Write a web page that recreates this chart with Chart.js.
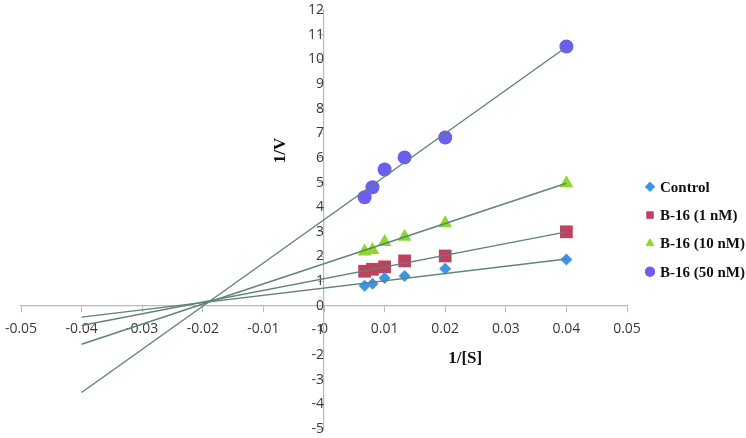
<!DOCTYPE html>
<html>
<head>
<meta charset="utf-8">
<script src="https://cdn.jsdelivr.net/npm/chart.js@4/dist/chart.umd.min.js"></script>
<style>
  html, body { margin: 0; padding: 0; background: #fff; }
  #wrap { width: 746px; height: 438px; }
</style>
</head>
<body>
<div id="wrap"><canvas id="lbPlot"></canvas></div>
<script>
// -------------------- DATA --------------------
const invS = [0.0067, 0.008, 0.01, 0.0133, 0.02, 0.04];
const control = [0.81, 0.89, 1.13, 1.21, 1.50, 1.88];
const b16_1nM = [1.40, 1.48, 1.58, 1.82, 2.02, 3.00];
const b16_10nM = [2.20, 2.26, 2.59, 2.80, 3.35, 4.97];
const b16_50nM = [4.40, 4.81, 5.53, 6.02, 6.83, 10.52];

// fitted lines, read at both ends
const fitX = [-0.04, 0.04];
const fitControl = [-0.46, 1.90];
const fit1nM = [-0.80, 3.00];
const fit10nM = [-1.56, 4.97];
const fit50nM = [-3.52, 10.50];

const seriesNames = ["Control", "B-16 (1 nM)", "B-16 (10 nM)", "B-16 (50 nM)"];
const xTicks = [-0.05, -0.04, -0.03, -0.02, -0.01, 0, 0.01, 0.02, 0.03, 0.04, 0.05];
const yTicks = [-5, -4, -3, -2, -1, 0, 1, 2, 3, 4, 5, 6, 7, 8, 9, 10, 11, 12];

// -------------------- STYLE --------------------
const COLORS = ["#4193e6", "#c0405e", "#8ed82a", "#6b5ef0"];
const SHAPES = ["rectRot", "rect", "triangle", "circle"];
const RADII = [6, 9, 8, 7];
const LINE_COLOR = "#5f8279";
const AXIS_COLOR = "#b4bcbc";

const pts = (xs, ys) => xs.map((x, i) => ({ x: x, y: ys[i] }));

const seriesData = [control, b16_1nM, b16_10nM, b16_50nM];
const fitData = [fitControl, fit1nM, fit10nM, fit50nM];

let datasets = [];
fitData.forEach(f => {
  datasets.push({
    type: "line",
    data: pts(fitX, f),
    borderColor: LINE_COLOR,
    borderWidth: 1.4,
    pointRadius: 0,
    fill: false,
    order: 0
  });
});
seriesData.forEach((s, i) => {
  datasets.push({
    type: "scatter",
    label: seriesNames[i],
    data: pts(invS, s),
    pointStyle: SHAPES[i],
    pointRadius: RADII[i],
    pointHoverRadius: RADII[i],
    backgroundColor: COLORS[i],
    borderColor: COLORS[i],
    borderWidth: 0,
    order: 1
  });
});

// -------------------- TITLES + LEGEND --------------------
const extras = {
  id: "extras",
  afterDraw(chart) {
    const c = chart.ctx;
    const xs = chart.scales.x, ys = chart.scales.y;
    const x0 = xs.getPixelForValue(0), y0 = ys.getPixelForValue(0);

    c.save();
    c.fillStyle = "#111";
    c.font = "bold 17px 'Liberation Serif', 'Times New Roman', serif";
    c.textAlign = "center";
    c.textBaseline = "middle";
    // 1/V
    c.save();
    c.translate(x0 - 43, ys.getPixelForValue(6.3));
    c.rotate(-Math.PI / 2);
    c.fillText("1/V", 0, 0);
    c.restore();
    // 1/[S]
    c.fillText("1/[S]", xs.getPixelForValue(0.0233), y0 + 53);

    // legend
    const lx = chart.chartArea.right + 23;
    const ly = y0 - 119;
    c.font = "bold 15px 'Liberation Serif', 'Times New Roman', serif";
    c.textAlign = "left";
    seriesNames.forEach((name, i) => {
      const yy = ly + i * 28.3;
      c.fillStyle = COLORS[i];
      Chart.helpers.drawPoint(c, { pointStyle: SHAPES[i], radius: 5, rotation: 0, borderWidth: 0 }, lx, yy);
      c.fill();
      c.fillStyle = "#111";
      c.fillText(name, lx + 10, yy + 1);
    });
    c.restore();
  }
};

// drop the label overhang so the plot box follows layout.padding
const noOverhang = s => { s.paddingTop = 0; s.paddingBottom = 0; s.paddingLeft = 0; s.paddingRight = 0; };

// -------------------- CHART --------------------
const tickFont = { family: "'Open Sans', sans-serif", size: 14 };

new Chart(document.getElementById("lbPlot"), {
  type: "scatter",
  data: { datasets: datasets },
  options: {
    responsive: true,
    maintainAspectRatio: false,
    animation: false,
    layout: { padding: { left: 21, right: 119, top: 10, bottom: 7 } },
    plugins: {
      legend: { display: false },
      tooltip: { enabled: false }
    },
    scales: {
      x: {
        type: "linear",
        position: { y: 0 },
        min: -0.05,
        max: 0.05,
        afterBuildTicks: s => { s.ticks = xTicks.map(v => ({ value: v })); },
        afterFit: noOverhang,
        ticks: {
          font: tickFont,
          color: "#3a3a3a",
          padding: 9,
          callback: v => String(Math.round(v * 100) / 100)
        },
        grid: { drawOnChartArea: false, drawTicks: true, tickLength: 6, color: AXIS_COLOR },
        border: { color: AXIS_COLOR, width: 1.2 }
      },
      y: {
        type: "linear",
        position: { x: 0 },
        min: -5,
        max: 12,
        afterBuildTicks: s => { s.ticks = yTicks.map(v => ({ value: v })); },
        afterFit: noOverhang,
        ticks: { font: tickFont, color: "#3a3a3a", padding: 10 },
        grid: { drawOnChartArea: false, drawTicks: true, tickLength: 5, color: AXIS_COLOR },
        border: { color: AXIS_COLOR, width: 1.2 }
      }
    }
  },
  plugins: [extras]
});
</script>
</body>
</html>
